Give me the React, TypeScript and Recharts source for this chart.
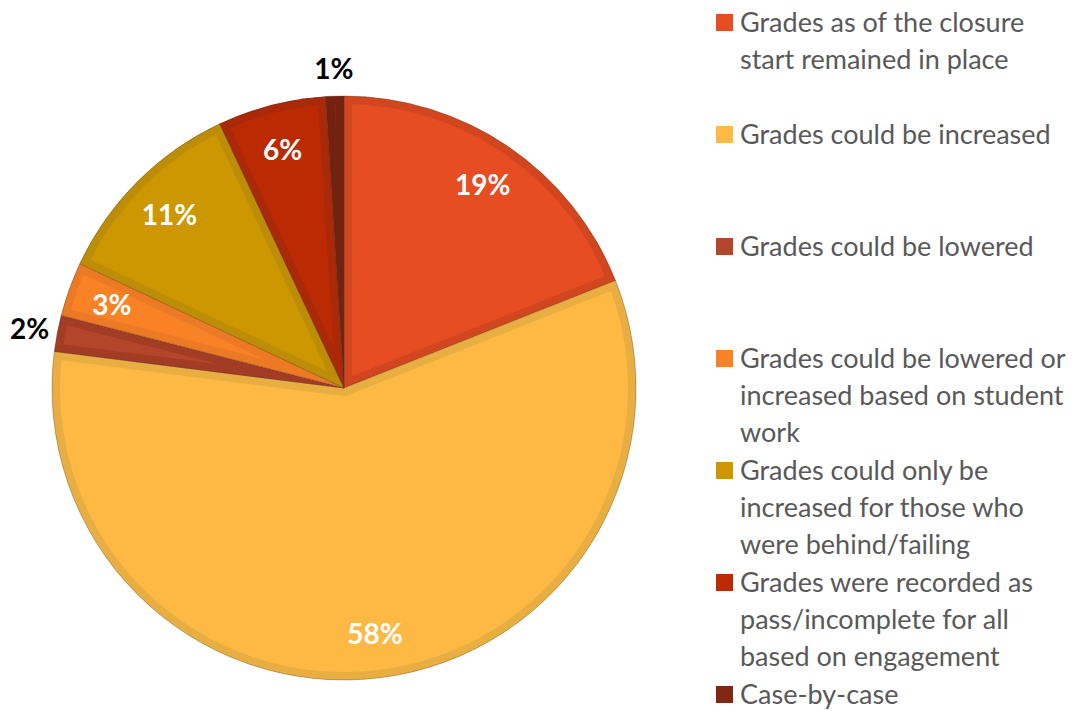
import { Legend, Pie, PieChart, Sector } from "recharts";

const categories = [
  "Grades as of the closure\nstart remained in place",
  "Grades could be increased",
  "Grades could be lowered",
  "Grades could be lowered or\nincreased based on student\nwork",
  "Grades could only be\nincreased for those who\nwere behind/failing",
  "Grades were recorded as\npass/incomplete for all\nbased on engagement",
  "Case-by-case",
];
const shares = [19, 58, 2, 3, 11, 6, 1];
const fills = ["#E64D22", "#FDB944", "#B3452A", "#FA8226", "#CC9700", "#BC2A04", "#7F2710"];
const borders = ["#D1451F", "#E8AE42", "#A23C24", "#EC7A25", "#BE8D08", "#A92909", "#72220E"];

const data = categories.map((name, i) => ({
  name,
  value: shares[i],
  fill: fills[i],
  border: borders[i],
}));

const RAD = Math.PI / 180;
const FONT = "Lato, 'Open Sans', sans-serif";

function InsetSector(props: any) {
  const id = `clip-${Math.round(props.startAngle * 100)}`;
  return (
    <g>
      <defs>
        <clipPath id={id}>
          <Sector {...props} stroke="none" />
        </clipPath>
      </defs>
      <Sector
        {...props}
        fill={props.payload?.fill ?? props.fill}
        stroke={props.payload?.border ?? props.stroke}
        strokeWidth={16}
        clipPath={`url(#${id})`}
      />
      <Sector {...props} fill="none" stroke="rgba(90,60,40,0.35)" strokeWidth={1} />
    </g>
  );
}

function renderLabel(p: any) {
  const outside = p.value <= 2;
  const r = outside ? p.outerRadius + 28 : p.outerRadius * 0.845;
  const x = p.cx + r * Math.cos(-p.midAngle * RAD);
  const y = p.cy + r * Math.sin(-p.midAngle * RAD);
  return (
    <text
      x={x}
      y={y}
      fill={outside ? "#000" : "#fff"}
      textAnchor="middle"
      dominantBaseline="central"
      fontFamily={FONT}
      fontWeight={700}
      fontSize={28}
    >
      {`${p.value}%`}
    </text>
  );
}

function renderLegend() {
  return (
    <div style={{ fontFamily: FONT, fontSize: 27, color: "#595959" }}>
      {data.map((d) => (
        <div
          key={d.name}
          style={{ height: 112, display: "flex", alignItems: "flex-start" }}
        >
          <span
            style={{
              width: 17,
              height: 17,
              background: d.fill,
              marginTop: 12,
              marginRight: 7,
              flexShrink: 0,
            }}
          />
          <span style={{ whiteSpace: "pre-line", lineHeight: "37px", marginTop: 1 }}>
            {d.name}
          </span>
        </div>
      ))}
    </div>
  );
}

export default function App() {
  return (
    <div style={{ position: "absolute", left: 0, top: 0, background: "#fff" }}>
      <PieChart width={1073} height={711} margin={{ top: 0, right: 0, bottom: 0, left: 0 }}>
        <Pie
          data={data}
          dataKey="value"
          nameKey="name"
          cx={344}
          cy={388}
          outerRadius={292}
          startAngle={90}
          endAngle={-270}
          shape={InsetSector}
          label={renderLabel}
          labelLine={false}
          isAnimationActive={false}
        />
        <Legend
          content={renderLegend}
          wrapperStyle={{ position: "absolute", left: 716, top: 2, width: 357 }}
        />
      </PieChart>
    </div>
  );
}
